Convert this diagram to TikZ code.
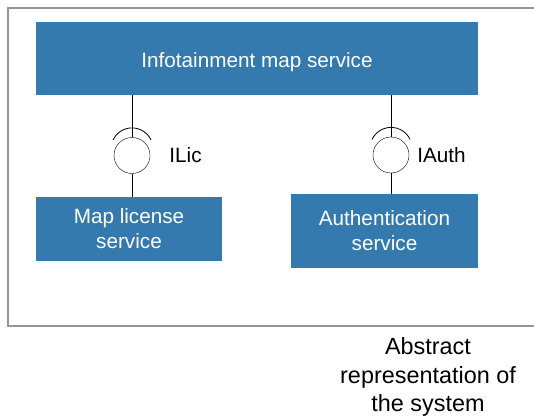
\documentclass[tikz,border=0pt]{standalone}
\usepackage{fontspec}
\setmainfont{Liberation Sans}
\usepackage{xcolor}
\usetikzlibrary{positioning}

\definecolor{svcblue}{RGB}{52,122,174}
\definecolor{framegray}{RGB}{150,150,150}

\tikzset{
  service/.style={fill=svcblue, draw=none, text=white, align=center,
    font=\fontsize{20.7pt}{25pt}\selectfont, inner sep=0pt},
  iface/.style={circle, draw, thin, minimum size=36pt, inner sep=0pt},
  ifacelabel/.style={inner sep=0pt, font=\fontsize{20.7pt}{25pt}\selectfont},
}

\begin{document}
\begin{tikzpicture}[x=1pt,y=-1pt]
  \useasboundingbox (0,0) rectangle (534,417) ;
  \draw[framegray, line width=1.6pt] (8,8) rectangle (560,326) ;

  \node[service, minimum width=442pt, minimum height=73pt, text height=20pt, text depth=1pt] (infomap) at (257,58.5) {Infotainment map service} ;
  \node[service, minimum width=186pt, minimum height=64pt] (maplic) at (129,229) {Map license\\service} ;
  \node[service, minimum width=187pt, minimum height=74pt] (auth) at (384.5,231) {Authentication\\service} ;

  \node[iface] (ilic) at (132,155.5) {} ;
  \node[iface] (iauth) at (391,155) {} ;
  \node[ifacelabel, right=19pt of ilic] (ilictxt) {ILic} ;
  \node[ifacelabel, right=8pt of iauth] (iauthtxt) {IAuth} ;

  \draw[semithick] (infomap.south -| ilic) -- (ilic.north) ;
  \draw[semithick] (ilic.south) -- (ilic.south |- maplic.north) ;
  \draw[semithick] (infomap.south -| iauth) -- (iauth.north) ;
  \draw[semithick] (iauth.south) -- (iauth.south |- auth.north) ;

  \draw[thick] ([shift={(-19,-15.5)}]ilic.center) arc[start angle=-155, end angle=-25, radius=21] ;
  \draw[thick] ([shift={(-19,-15.5)}]iauth.center) arc[start angle=-155, end angle=-25, radius=21] ;

  \node[align=center, font=\fontsize{23.4pt}{28.5pt}\selectfont] (caption) at (428,377) {Abstract\\representation of\\the system} ;
\end{tikzpicture}
\end{document}
